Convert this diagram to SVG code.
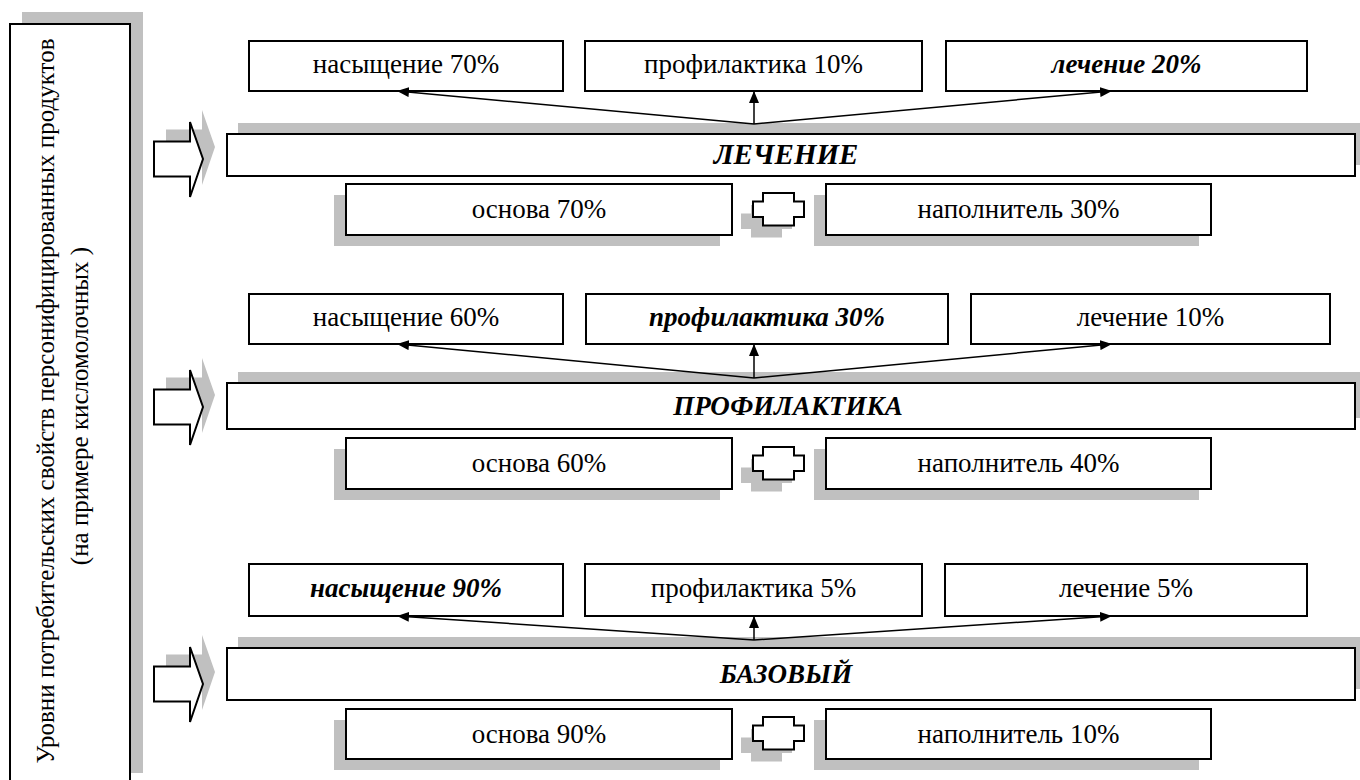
<svg xmlns="http://www.w3.org/2000/svg" width="1360" height="780" viewBox="0 0 1360 780">
<style>
.box{fill:#fff;stroke:#000;stroke-width:2}
.sh{fill:#c0c0c0;stroke:none}
text{font-family:"Liberation Serif","Times New Roman",serif}
.t{font-size:27px;fill:#000;text-anchor:middle}
.bi{font-weight:bold;font-style:italic}
.side{font-size:25px}
.c{stroke:#000;stroke-width:1.5;fill:none;marker-end:url(#ah)}
.arr{fill:#fff;stroke:#000;stroke-width:2;stroke-linejoin:miter}
</style>
<defs>
<marker id="ah" markerUnits="userSpaceOnUse" markerWidth="12" markerHeight="10" refX="12" refY="5" orient="auto">
<path d="M0,0 L12,5 L0,10 z" fill="#000"/>
</marker>
<path id="arrow" d="M0,-17.5 L36,-17.5 L36,-37 L49,0 L36,38 L36,17.5 L0,17.5 z"/>
<path id="cross" d="M-15.5,0 L15.5,0 L15.5,8.5 L25.5,8.5 L25.5,24 L15.5,24 L15.5,32.5 L-15.5,32.5 L-15.5,24 L-25.5,24 L-25.5,8.5 L-15.5,8.5 z"/>
</defs>
<rect width="1360" height="780" fill="#fff"/>

<g id="side">
<rect class="sh" x="22" y="12" width="121" height="761"/>
<rect class="box" x="10" y="24" width="120" height="770"/>
<text class="t side" transform="translate(54,401) rotate(-90)">Уровни потребительских свойств персонифицированных продуктов</text>
<text class="t side" transform="translate(88,406) rotate(-90)">(на примере кисломолочных )</text>
</g>

<g id="arrows">
<use href="#arrow" class="sh" transform="translate(166,147)"/>
<use href="#arrow" class="arr" transform="translate(154,159)"/>
<use href="#arrow" class="sh" transform="translate(166,395)"/>
<use href="#arrow" class="arr" transform="translate(154,407)"/>
<use href="#arrow" class="sh" transform="translate(166,672)"/>
<use href="#arrow" class="arr" transform="translate(154,684)"/>
</g>

<!-- Level 1 -->
<g id="l1-bar">
<rect class="sh" x="238" y="123" width="1128" height="42"/>
<rect class="box" x="227" y="134" width="1128" height="42"/>
<text class="t bi" x="786" y="164" style="font-size:29px">ЛЕЧЕНИЕ</text>
</g>
<g id="l1-t1"><rect class="box" x="249" y="41" width="314" height="50"/><text class="t" x="406" y="73">насыщение 70%</text></g>
<g id="l1-t2"><rect class="box" x="585" y="41" width="337" height="50"/><text class="t" x="753.5" y="73">профилактика 10%</text></g>
<g id="l1-t3"><rect class="box" x="946" y="41" width="361" height="50"/><text class="t bi" x="1126.5" y="73">лечение 20%</text></g>
<g id="l1-b1"><rect class="sh" x="334" y="195" width="386" height="51"/><rect class="box" x="346" y="184" width="386" height="51"/><text class="t" x="539" y="218">основа 70%</text></g>
<g id="l1-x"><use href="#cross" class="sh" transform="translate(766.5,205)"/><use href="#cross" class="arr" transform="translate(778.5,193)"/></g>
<g id="l1-b2"><rect class="sh" x="814" y="195" width="385" height="51"/><rect class="box" x="826" y="184" width="385" height="51"/><text class="t" x="1018.5" y="218">наполнитель 30%</text></g>

<!-- Level 2 -->
<g id="l2-bar">
<rect class="sh" x="238" y="372" width="1128" height="46"/>
<rect class="box" x="227" y="383" width="1128" height="46"/>
<text class="t bi" x="788" y="415">ПРОФИЛАКТИКА</text>
</g>
<g id="l2-t1"><rect class="box" x="249" y="294" width="314" height="50"/><text class="t" x="406" y="326">насыщение 60%</text></g>
<g id="l2-t2"><rect class="box" x="586" y="294" width="362" height="50"/><text class="t bi" x="767" y="326">профилактика 30%</text></g>
<g id="l2-t3"><rect class="box" x="971" y="294" width="359" height="50"/><text class="t" x="1150.5" y="326">лечение 10%</text></g>
<g id="l2-b1"><rect class="sh" x="334" y="449" width="386" height="51"/><rect class="box" x="346" y="438" width="386" height="51"/><text class="t" x="539" y="472">основа 60%</text></g>
<g id="l2-x"><use href="#cross" class="sh" transform="translate(766.5,459)"/><use href="#cross" class="arr" transform="translate(778.5,447)"/></g>
<g id="l2-b2"><rect class="sh" x="814" y="449" width="385" height="51"/><rect class="box" x="826" y="438" width="385" height="51"/><text class="t" x="1018.5" y="472">наполнитель 40%</text></g>

<!-- Level 3 -->
<g id="l3-bar">
<rect class="sh" x="238" y="637" width="1128" height="52"/>
<rect class="box" x="227" y="648" width="1128" height="52"/>
<text class="t bi" x="786" y="683">БАЗОВЫЙ</text>
</g>
<g id="l3-t1"><rect class="box" x="249" y="564" width="314" height="52"/><text class="t bi" x="406" y="597">насыщение 90%</text></g>
<g id="l3-t2"><rect class="box" x="585" y="564" width="337" height="52"/><text class="t" x="753.5" y="597">профилактика 5%</text></g>
<g id="l3-t3"><rect class="box" x="945" y="564" width="362" height="52"/><text class="t" x="1126" y="597">лечение 5%</text></g>
<g id="l3-b1"><rect class="sh" x="334" y="720" width="386" height="50"/><rect class="box" x="346" y="709" width="386" height="50"/><text class="t" x="539" y="743">основа 90%</text></g>
<g id="l3-x"><use href="#cross" class="sh" transform="translate(766.5,729)"/><use href="#cross" class="arr" transform="translate(778.5,717)"/></g>
<g id="l3-b2"><rect class="sh" x="814" y="720" width="385" height="50"/><rect class="box" x="826" y="709" width="385" height="50"/><text class="t" x="1018.5" y="743">наполнитель 10%</text></g>

<g id="connectors">
<line class="c" x1="754" y1="124" x2="397" y2="91"/>
<line class="c" x1="754" y1="124" x2="754" y2="91"/>
<line class="c" x1="754" y1="124" x2="1112" y2="91"/>
<line class="c" x1="754" y1="378" x2="397" y2="344"/>
<line class="c" x1="754" y1="378" x2="754" y2="344"/>
<line class="c" x1="754" y1="378" x2="1112" y2="344"/>
<line class="c" x1="754" y1="640" x2="397" y2="616"/>
<line class="c" x1="754" y1="640" x2="754" y2="616"/>
<line class="c" x1="754" y1="640" x2="1112" y2="616"/>
</g>
</svg>
